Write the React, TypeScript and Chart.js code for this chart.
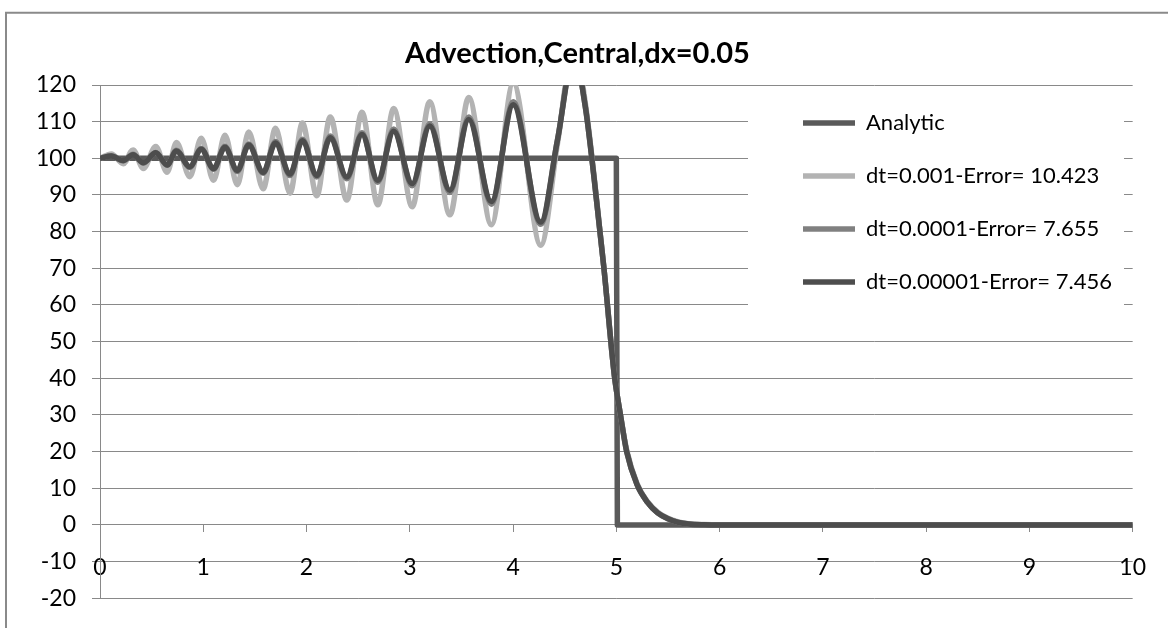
import React, { useEffect, useRef } from 'react';
import { Chart, registerables } from 'chart.js';

Chart.register(...registerables);

// ---------------- data ----------------
const TITLE = 'Advection,Central,dx=0.05';

const SERIES_NAMES = [
  'Analytic',
  'dt=0.001-Error= 10.423',
  'dt=0.0001-Error= 7.655',
  'dt=0.00001-Error= 7.456',
];

const ANALYTIC_X = [0, 5, 5.01, 10];
const ANALYTIC_Y = [100, 100, 0, 0];

// x positions of the read-off points (peaks / troughs / decay)
const X_VALUES = [
  0, 0.11, 0.226, 0.32, 0.42, 0.54, 0.65, 0.74, 0.87, 0.98,
  1.1, 1.21, 1.33, 1.44, 1.58, 1.7, 1.84, 1.96, 2.1, 2.23,
  2.39, 2.537, 2.69, 2.844, 3.023, 3.193, 3.388, 3.571, 3.79, 4.002,
  4.268, 4.43, 4.59, 4.7, 4.785, 4.88, 4.98, 5.04, 5.1, 5.2,
  5.3, 5.4, 5.5, 5.6, 5.7, 5.85, 6, 7, 8, 9, 10,
];

const DT_001 = [
  100, 101.2, 98.5, 102.3, 97.2, 103.2, 96.2, 104.3, 95.0, 105.5,
  94.0, 106.3, 92.8, 107.2, 91.7, 108.2, 90.5, 109.6, 89.8, 111.3,
  88.6, 112.6, 87.3, 113.6, 86.8, 115.4, 84.6, 116.6, 81.9, 120.5,
  76.3, 104, 131, 115, 95, 70, 41, 30, 20.5, 11.3,
  6.4, 3.5, 1.8, 0.8, 0.3, 0.08, 0, 0, 0, 0, 0,
];

const DT_0001 = [
  100, 100.7, 99.3, 101.1, 98.7, 101.6, 98.1, 102.2, 97.5, 102.7,
  97.0, 103.3, 96.4, 103.9, 95.9, 104.6, 95.3, 105.2, 94.9, 106.1,
  94.4, 107.0, 93.5, 108.0, 92.5, 109.4, 90.7, 111.3, 87.5, 115.4,
  82.0, 105, 128.5, 114, 94.5, 70, 41, 30, 20, 11,
  6.2, 3.3, 1.7, 0.7, 0.25, 0.05, 0, 0, 0, 0, 0,
];

const DT_00001 = [
  100, 100.6, 99.4, 101.0, 98.8, 101.5, 98.2, 102.0, 97.7, 102.5,
  97.2, 103.0, 96.7, 103.6, 96.2, 104.2, 95.7, 104.8, 95.3, 105.6,
  94.9, 106.5, 94.0, 107.4, 93.1, 108.8, 91.3, 110.6, 88.2, 114.6,
  82.6, 105, 128, 114, 94.5, 70, 41, 30, 20, 11,
  6.2, 3.3, 1.7, 0.7, 0.25, 0.05, 0, 0, 0, 0, 0,
];

const Y_MIN = -20;
const Y_MAX = 120;
const Y_STEP = 10;
const X_MIN = 0;
const X_MAX = 10;
const X_STEP = 1;

// ---------------- styles ----------------
const COLORS = ['#5a5a5a', '#b3b3b3', '#808080', '#4d4d4d'];
const GRID = '#898989';
const FONT = "Lato, 'Noto Sans', sans-serif";
const LINE_W = 5.5;

const LEGEND_X = 772;
const LEGEND_Y = 81;
const LEGEND_BG = { x: 748, y: 96, w: 376, h: 222 };

const framePlugin = {
  id: 'frameAndLegend',
  beforeDraw(chart: any) {
    const ctx = chart.ctx;
    ctx.save();
    ctx.fillStyle = '#ffffff';
    ctx.fillRect(0, 0, chart.width, chart.height);
    ctx.strokeStyle = '#8a8a8a';
    ctx.lineWidth = 2;
    ctx.beginPath();
    ctx.moveTo(6, chart.height);
    ctx.lineTo(6, 12.7);
    ctx.lineTo(chart.width, 12.7);
    ctx.stroke();
    ctx.restore();
  },
  afterLayout(chart: any) {
    const lg = chart.legend;
    if (!lg) return;
    const w = lg.width;
    const h = lg.height;
    lg.left = LEGEND_X;
    lg.top = LEGEND_Y;
    lg.right = LEGEND_X + w;
    lg.bottom = LEGEND_Y + h;
    if (!lg.__bgPatched) {
      const orig = lg.draw.bind(lg);
      lg.draw = function () {
        const c = chart.ctx;
        c.save();
        c.fillStyle = '#ffffff';
        c.fillRect(LEGEND_BG.x, LEGEND_BG.y, LEGEND_BG.w, LEGEND_BG.h);
        c.restore();
        orig();
      };
      lg.__bgPatched = true;
    }
  },
};

export default function App() {
  const ref = useRef<HTMLCanvasElement | null>(null);

  useEffect(() => {
    if (!ref.current) return;
    Chart.defaults.font.family = FONT;
    Chart.defaults.color = '#000000';

    const curves = [DT_001, DT_0001, DT_00001];
    const datasets: any[] = [
      {
        label: SERIES_NAMES[0],
        data: ANALYTIC_X.map((x, i) => ({ x, y: ANALYTIC_Y[i] })),
        borderColor: COLORS[0],
        backgroundColor: COLORS[0],
        borderWidth: LINE_W,
        pointRadius: 0,
        tension: 0,
        borderJoinStyle: 'round',
        borderCapStyle: 'butt',
        order: 4,
      },
      ...curves.map((ys, k) => ({
        label: SERIES_NAMES[k + 1],
        data: X_VALUES.map((x, i) => ({ x, y: ys[i] })),
        borderColor: COLORS[k + 1],
        backgroundColor: COLORS[k + 1],
        borderWidth: LINE_W,
        pointRadius: 0,
        cubicInterpolationMode: 'monotone',
        borderJoinStyle: 'round',
        borderCapStyle: 'butt',
        order: 3 - k,
      })),
    ];

    const chart = new Chart(ref.current, {
      type: 'line',
      data: { datasets },
      plugins: [framePlugin],
      options: {
        responsive: false,
        animation: false,
        devicePixelRatio: 1,
        events: [],
        layout: { padding: { left: 20, right: 33, top: 0, bottom: 24 } },
        plugins: {
          title: {
            display: true,
            text: TITLE,
            color: '#000000',
            font: { family: FONT, size: 29, weight: 'bold', lineHeight: 1.2 },
            padding: { top: 36.6, bottom: 13.6 },
          },
          legend: {
            display: true,
            position: 'chartArea',
            align: 'start',
            labels: {
              usePointStyle: true,
              pointStyle: 'line',
              pointStyleWidth: 52,
              boxHeight: 22,
              padding: 31,
              color: '#000000',
              font: { family: FONT, size: 22 },
              sort: (a: any, b: any) => a.datasetIndex - b.datasetIndex,
            },
          },
          tooltip: { enabled: false },
        },
        scales: {
          x: {
            type: 'linear',
            position: { y: 0 } as any,
            min: X_MIN,
            max: X_MAX,
            afterFit: (s: any) => {
              s.height = 0;
            },
            grid: {
              drawOnChartArea: false,
              drawTicks: true,
              tickLength: 7,
              color: GRID,
              lineWidth: 1,
            },
            border: { display: true, color: GRID, width: 1 },
            ticks: {
              stepSize: X_STEP,
              autoSkip: false,
              maxRotation: 0,
              padding: 22,
              color: '#000000',
              font: { family: FONT, size: 23 },
            },
          },
          y: {
            type: 'linear',
            position: 'left',
            min: Y_MIN,
            max: Y_MAX,
            afterFit: (s: any) => {
              s.width = 80;
            },
            grid: { color: GRID, lineWidth: 1, tickLength: 8 },
            border: { display: true, color: GRID, width: 1 },
            ticks: {
              stepSize: Y_STEP,
              padding: 16,
              color: '#000000',
              font: { family: FONT, size: 23 },
            },
          },
        },
      } as any,
    });

    return () => chart.destroy();
  }, []);

  return (
    <div style={{ position: 'fixed', left: 0, top: 0, width: 1168, height: 628, background: '#fff' }}>
      <canvas ref={ref} width={1168} height={628} style={{ display: 'block' }} />
    </div>
  );
}
